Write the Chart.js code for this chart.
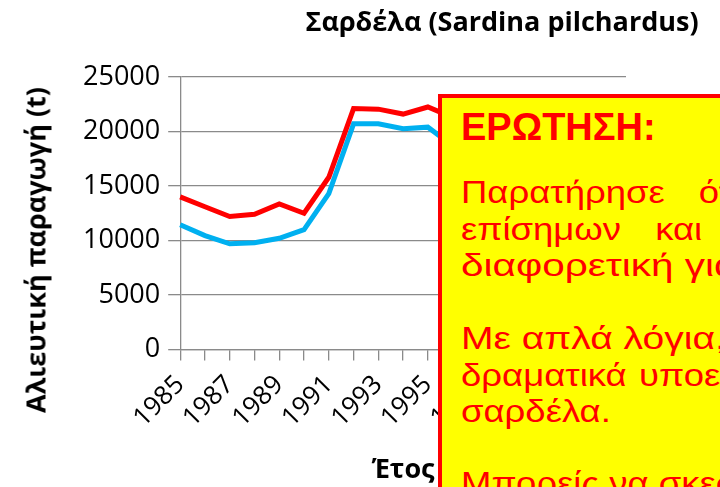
<!DOCTYPE html>
<html>
<head>
<meta charset="utf-8">
<script src="https://cdn.jsdelivr.net/npm/chart.js@4.4.1/dist/chart.umd.min.js"></script>
<style>
	body{margin:0;background:#fff;}
	#wrap{position:relative;width:720px;height:487px;overflow:hidden;}
	#sardineChart{position:absolute;left:0;top:0;}
	#chartTitle{position:absolute;left:502px;top:3px;transform:translateX(-50%);
		font-family:'Open Sans',sans-serif;font-weight:bold;font-size:27px;line-height:36px;white-space:nowrap;color:#000;}
	#yTitle{position:absolute;left:35px;top:250px;transform:translate(-50%,-50%) rotate(-90deg);
		font-family:'Open Sans',sans-serif;font-weight:bold;font-size:27px;line-height:27px;white-space:nowrap;color:#000;}
	#note{position:absolute;left:438px;top:94px;width:460px;height:440px;box-sizing:border-box;
		background:#FFFF00;border:4px solid #FF0000;color:#FF0000;
		font-family:'Liberation Sans',Arial,sans-serif;}
	#note .q{position:absolute;left:19px;top:9px;font-size:38px;line-height:40px;font-weight:bold;white-space:nowrap;}
	#note .p{position:absolute;left:19px;font-size:32px;line-height:36.5px;white-space:nowrap;
		transform:scaleX(1.14);transform-origin:0 0;}
	#note .p div{white-space:nowrap;transform-origin:0 0;}
</style>
</head>
<body>
<div id="wrap">
	<canvas id="sardineChart" width="720" height="487"></canvas>
	<div id="chartTitle">Σαρδέλα (Sardina pilchardus)</div>
	<div id="yTitle">Αλιευτική παραγωγή (t)</div>
	<div id="note">
		<div class="q">ΕΡΩΤΗΣΗ:</div>
		<div class="p" style="top:76px">
			<div style="word-spacing:21px">Παρατήρησε ότι η τάση των</div>
			<div style="word-spacing:21px">επίσημων και των ανακατασκευασμένων</div>
			<div style="transform:scaleX(1.11)">διαφορετική για τη σαρδέλα.</div>
		</div>
		<div class="p" style="top:222px">
			<div style="transform:scaleX(1.07)">Με απλά λόγια, οι επίσημες στατιστικές</div>
			<div style="word-spacing:2px">δραματικά υποεκτιμούν τα αλιεύματα για τη</div>
			<div>σαρδέλα.</div>
		</div>
		<div class="p" style="top:367px">
			<div>Μπορείς να σκεφτείς γιατί;</div>
		</div>
	</div>
</div>
<script>
//έτη (κατηγορίες του άξονα x)
var years=['1985','1986','1987','1988','1989','1990','1991','1992','1993','1994',
	'1995','1996','1997','1998','1999','2000','2001','2002','2003'];
//κόκκινη καμπύλη (t) - μετά το 1996 κρύβεται πίσω από το πλαίσιο
var reconstructedCatch=[14000,13100,12200,12400,13350,12500,15800,22100,22050,21600,
	22250,21300,null,null,null,null,null,null,null];
//μπλε καμπύλη (t)
var officialCatch=[11450,10450,9700,9800,10200,11000,14300,20700,20700,20250,
	20400,18700,null,null,null,null,null,null,null];
//άξονας y
var yMin=0;
var yMax=25000;
var yStep=5000;

var axisGrey='#8a8a8a';

Chart.defaults.font.family="'Open Sans', sans-serif";
Chart.defaults.color='#000';

var ctx=document.getElementById('sardineChart').getContext('2d');
var sardineChart=new Chart(ctx,{
	type:'line',
	data:{
		labels:years,
		datasets:[
			{
				label:'reconstructed',
				data:reconstructedCatch,
				borderColor:'#FF0000',
				borderWidth:5,
				pointRadius:0,
				tension:0,
				fill:false
			},
			{
				label:'official',
				data:officialCatch,
				borderColor:'#00B0F0',
				borderWidth:5,
				pointRadius:0,
				tension:0,
				fill:false
			}
		]
	},
	options:{
		responsive:false,
		animation:false,
		devicePixelRatio:1,
		layout:{padding:{left:75,top:77,right:94,bottom:0}},
		plugins:{
			legend:{display:false},
			tooltip:{enabled:false}
		},
		scales:{
			x:{
				offset:false,
				grid:{display:true,drawOnChartArea:false,drawTicks:true,tickLength:11,color:axisGrey,lineWidth:1.3},
				border:{display:true,color:axisGrey,width:1.3},
				ticks:{
					autoSkip:false,
					minRotation:45,
					maxRotation:45,
					padding:9,
					font:{size:26},
					//μόνο κάθε δεύτερο έτος
					callback:function(value,index){
						return index%2===0?years[index]:'';
					}
				},
				title:{
					display:true,
					text:'Έτος',
					font:{size:27,weight:'bold'},
					padding:{top:12,bottom:0}
				}
			},
			y:{
				min:yMin,
				max:yMax,
				grid:{color:axisGrey,lineWidth:1.3,drawTicks:true,tickLength:12},
				border:{display:true,color:axisGrey,width:1.3},
				ticks:{
					stepSize:yStep,
					padding:8,
					font:{size:27},
					//χωρίς διαχωριστικό χιλιάδων
					callback:function(value){
						return String(value);
					}
				}
			}
		}
	}
});
</script>
</body>
</html>
